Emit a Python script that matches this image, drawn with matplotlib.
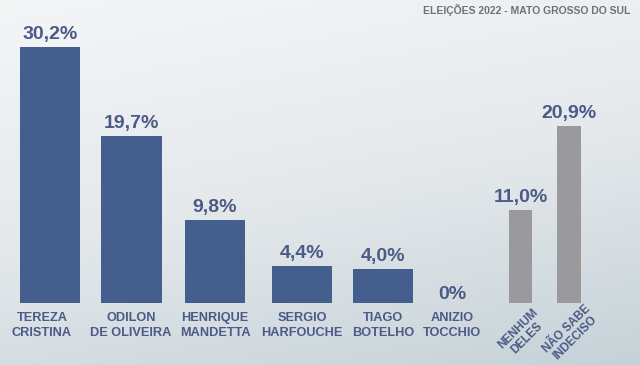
import numpy as np
import matplotlib.pyplot as plt
from matplotlib.colors import LinearSegmentedColormap

candidates = ["TEREZA\nCRISTINA", "ODILON\nDE OLIVEIRA", "HENRIQUE\nMANDETTA",
              "SERGIO\nHARFOUCHE", "TIAGO\nBOTELHO", "ANIZIO\nTOCCHIO"]
candidate_values = [30.2, 19.7, 9.8, 4.4, 4.0, 0.0]
candidate_labels = ["30,2%", "19,7%", "9,8%", "4,4%", "4,0%", "0%"]

others = ["NENHUM\nDELES", "NÃO SABE\nINDECISO"]
other_values = [11.0, 20.9]
other_labels = ["11,0%", "20,9%"]

title = "ELEIÇÕES 2022 - MATO GROSSO DO SUL"

# layout (pixel-ish x positions on a 640 wide canvas)
cand_x = [50, 131.5, 215, 302, 383, 452]
cand_label_x = [42, 131, 215, 302, 383, 452]
other_x = [520.5, 569]

blue = "#445e8e"
gray = "#9a9a9c"
text_blue = "#4b5a86"

plt.rcParams['font.family'] = ['Liberation Sans', 'DejaVu Sans']

fig = plt.figure(figsize=(6.4, 3.65), dpi=100)

# background gradient
bg = fig.add_axes([0, 0, 1, 1])
bg.set_axis_off()
yy, xx = np.mgrid[0:1:200j, 0:1:200j]
grad = np.clip(0.75 * yy + 0.25 * xx, 0, 1)
cmap = LinearSegmentedColormap.from_list("bg", ["#f4f5f6", "#e5e9ec", "#c6d2d8"])
bg.imshow(grad, cmap=cmap, aspect="auto", extent=[0, 1, 0, 1], origin="upper")

base = 62 / 365
ax = fig.add_axes([0, base, 1, 1 - base])
ax.set_xlim(0, 640)
ax.set_ylim(0, 303 / 8.48)
ax.set_axis_off()
ax.patch.set_alpha(0)

ax.bar(cand_x, candidate_values, width=60.5, color=blue)
ax.bar(other_x, other_values, width=23.5, color=gray)

for x, v, lab in zip(cand_x, candidate_values, candidate_labels):
    pad = 0.45 if v > 0 else 0.05
    ax.text(x, v + pad, lab, ha="center", va="bottom", fontsize=14,
            fontweight="bold", color=text_blue)
for x, v, lab in zip(other_x, other_values, other_labels):
    ax.text(x, v + 0.45, lab, ha="center", va="bottom", fontsize=14,
            fontweight="bold", color=text_blue)

for x, name in zip(cand_label_x, candidates):
    ax.text(x, -1.1, name, ha="center", va="top", fontsize=9.2,
            fontweight="bold", color=text_blue, linespacing=1.3)

for x, name in zip(other_x, others):
    ax.text(x + 2, -3.6, name, ha="center", va="center", fontsize=8.5,
            fontweight="bold", color=text_blue, rotation=45,
            linespacing=1.05, rotation_mode="anchor")

fig.text(630 / 640, 1 - 10 / 365, title, ha="right", va="center",
         fontsize=7.5, fontweight="bold", color="#707172")

fig.savefig("out.png", dpi=100)
